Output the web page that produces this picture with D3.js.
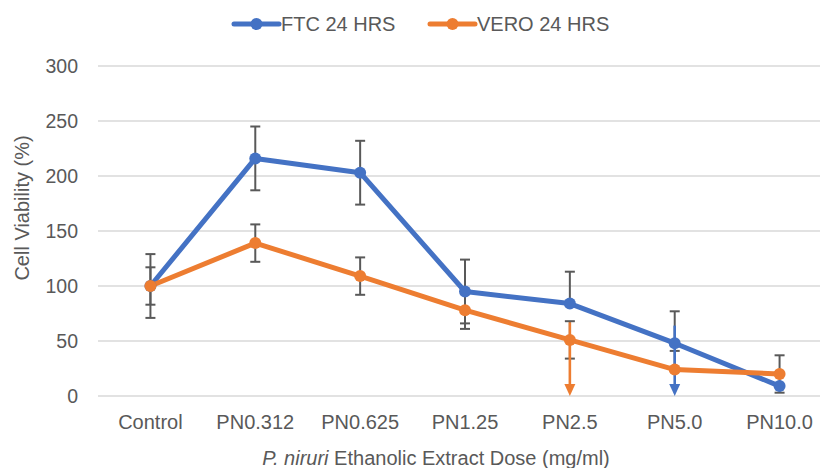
<!DOCTYPE html>
<html>
<head>
<meta charset="utf-8">
<script src="https://cdn.jsdelivr.net/npm/d3@7"></script>
<style>
  body { margin: 0; background: #fff; }
  text { font-family: "Liberation Sans", Arial, sans-serif; fill: #595959; }
</style>
</head>
<body>
<script>
var w = 820;
var h = 468;

// data
var categories = ["Control", "PN0.312", "PN0.625", "PN1.25", "PN2.5", "PN5.0", "PN10.0"];
var ftc = [100, 216, 203, 95, 84, 48, 9];
var ftcPlus = [29, 29, 29, 29, 29, 29, null];
var ftcMinus = [29, 29, 29, 29, null, null, null];
var vero = [100, 139, 109, 78, 51, 24, 20];
var veroPlus = [17, 17, 17, 17, 17, 17, 17];
var veroMinus = [17, 17, 17, 17, 17, null, 17];
// down arrows (category, start value, series)
var arrows = [["PN2.5", 67, "vero"], ["PN5.0", 64, "ftc"]];
var yTicks = [0, 50, 100, 150, 200, 250, 300];

var colors = { ftc: "#4472C4", vero: "#ED7D31" };

var svg = d3.select("body")
    .append("svg")
    .attr("width", w)
    .attr("height", h);

var x = d3.scalePoint()
    .domain(categories)
    .range([98, 832])
    .padding(0.5);

var y = d3.scaleLinear()
    .domain([0, 300])
    .range([396, 66]);

// gridlines
svg.append("g")
    .selectAll("line")
    .data(yTicks)
    .enter()
    .append("line")
    .attr("x1", 98)
    .attr("x2", 832)
    .attr("y1", d => y(d))
    .attr("y2", d => y(d))
    .attr("stroke", "#d9d9d9")
    .attr("stroke-width", 1.5);

// y tick labels
svg.append("g")
    .selectAll("text")
    .data(yTicks)
    .enter()
    .append("text")
    .attr("x", 78)
    .attr("y", d => y(d))
    .attr("dy", "0.36em")
    .attr("text-anchor", "end")
    .attr("font-size", 19.5)
    .text(d => d);

// x tick labels
svg.append("g")
    .selectAll("text")
    .data(categories)
    .enter()
    .append("text")
    .attr("x", d => x(d))
    .attr("y", 429)
    .attr("text-anchor", "middle")
    .attr("font-size", 20)
    .text(d => d);

// axis titles
svg.append("text")
    .attr("transform", "translate(29,208) rotate(-90)")
    .attr("text-anchor", "middle")
    .attr("font-size", 20)
    .text("Cell Viability (%)");

var xt = svg.append("text")
    .attr("x", 436)
    .attr("y", 465)
    .attr("text-anchor", "middle")
    .attr("font-size", 20);
xt.append("tspan").attr("font-style", "italic").text("P. niruri");
xt.append("tspan").text(" Ethanolic Extract Dose (mg/ml)");

var series = [
    { key: "ftc", vals: ftc, plus: ftcPlus, minus: ftcMinus },
    { key: "vero", vals: vero, plus: veroPlus, minus: veroMinus }
];

var line = d3.line()
    .x((d, i) => x(categories[i]))
    .y(d => y(d));

series.forEach(s => {
    svg.append("path")
        .attr("d", line(s.vals))
        .attr("fill", "none")
        .attr("stroke", colors[s.key])
        .attr("stroke-width", 5)
        .attr("stroke-linejoin", "round");
});

// error bars
var eg = svg.append("g")
    .attr("stroke", "#595959")
    .attr("stroke-width", 2);
series.forEach(s => {
    s.vals.forEach((v, i) => {
        let cx = x(categories[i]);
        let top = s.plus[i] != null ? v + s.plus[i] : v;
        let bot = s.minus[i] != null ? v - s.minus[i] : v;
        eg.append("line")
            .attr("x1", cx).attr("x2", cx)
            .attr("y1", y(top)).attr("y2", y(bot));
        [[s.plus[i], top], [s.minus[i], bot]].forEach(p => {
            if (p[0] != null) {
                eg.append("line")
                    .attr("x1", cx - 5).attr("x2", cx + 5)
                    .attr("y1", y(p[1])).attr("y2", y(p[1]));
            }
        });
    });
});

// arrows to zero
arrows.forEach(a => {
    let cx = x(a[0]);
    let c = colors[a[2]];
    svg.append("line")
        .attr("x1", cx).attr("x2", cx)
        .attr("y1", y(a[1])).attr("y2", y(0) - 8)
        .attr("stroke", c)
        .attr("stroke-width", 2.6);
    svg.append("path")
        .attr("d", `M${cx - 5.5},${y(0) - 12}L${cx + 5.5},${y(0) - 12}L${cx},${y(0)}Z`)
        .attr("fill", c);
});

// markers
series.forEach(s => {
    svg.append("g")
        .selectAll("circle")
        .data(s.vals)
        .enter()
        .append("circle")
        .attr("cx", (d, i) => x(categories[i]))
        .attr("cy", d => y(d))
        .attr("r", 6)
        .attr("fill", colors[s.key]);
});

// legend
var legend = [["FTC 24 HRS", "ftc", 234], ["VERO 24 HRS", "vero", 430]];
legend.forEach(l => {
    let g = svg.append("g");
    g.append("line")
        .attr("x1", l[2]).attr("x2", l[2] + 45)
        .attr("y1", 24).attr("y2", 24)
        .attr("stroke", colors[l[1]])
        .attr("stroke-width", 5)
        .attr("stroke-linecap", "round");
    g.append("circle")
        .attr("cx", l[2] + 22.5).attr("cy", 24)
        .attr("r", 6)
        .attr("fill", colors[l[1]]);
    g.append("text")
        .attr("x", l[2] + 47)
        .attr("y", 31)
        .attr("font-size", 20)
        .text(l[0]);
});
</script>
</body>
</html>
